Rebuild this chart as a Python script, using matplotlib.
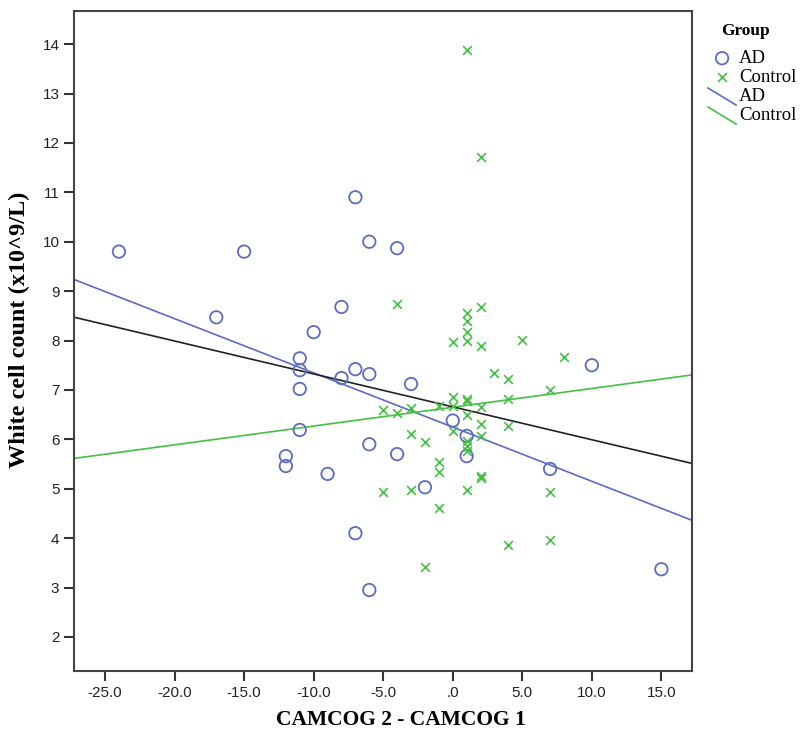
import numpy as np
import matplotlib.pyplot as plt
from matplotlib.lines import Line2D
from matplotlib.legend_handler import HandlerLine2D
from matplotlib.ticker import FuncFormatter


# AD group: CAMCOG change vs white cell count
ad_x = [-24, -15, -17, -7, -6, -4, -8, -10, -11, -11, -7, -8, -6, -11, -3,
        -11, -6, -12, -12, -9, -4, -2, -7, -6, 0, 1, 1, 7, 10, 15]
ad_y = [9.80, 9.80, 8.47, 10.90, 10.00, 9.87, 8.68, 8.17, 7.64, 7.40, 7.42, 7.24, 7.32, 7.02, 7.12,
        6.19, 5.90, 5.66, 5.46, 5.30, 5.70, 5.03, 4.10, 2.95, 6.38, 6.07, 5.66, 5.40, 7.50, 3.37]

# Control group
ctrl_x = [-4, 1, 1, 2, 1, 1, 0, 2, 5, 8, 3, 4, 7, 0, 1, 1, 0, -1, 2, -5,
          -4, -3, 1, 2, 4, 4, 0, -3, -2, 2, 1, 1, 1, -1, -1, 2, 2, -5, -3, 1,
          7, -1, 4, 7, -2, 1, 2]
ctrl_y = [8.74, 8.55, 8.40, 8.68, 8.18, 8.00, 7.98, 7.89, 8.02, 7.67, 7.35, 7.22, 7.00, 6.85, 6.81, 6.78, 6.67, 6.68, 6.65, 6.60,
          6.54, 6.64, 6.50, 6.31, 6.27, 6.81, 6.17, 6.10, 5.94, 6.07, 5.97, 5.87, 5.76, 5.55, 5.33, 5.25, 5.21, 4.94, 4.97, 4.97,
          4.94, 4.60, 3.86, 3.97, 3.42, 13.88, 11.71]

x_ticks = [-25, -20, -15, -10, -5, 0, 5, 10, 15]
y_ticks = list(range(2, 15))

blue = '#5a6cc6'
green = '#44c044'
serif = ['Liberation Serif', 'DejaVu Serif']
sans = ['Liberation Sans', 'DejaVu Sans']


# legend lines drawn diagonally, like the SPSS output
class DiagonalLine(HandlerLine2D):
    def create_artists(self, legend, orig_handle, xdescent, ydescent,
                       width, height, fontsize, trans):
        line = Line2D([-xdescent, -xdescent + width],
                      [height * 1.0 - ydescent, -height * 0.3 - ydescent])
        self.update_prop(line, orig_handle, legend)
        line.set_transform(trans)
        return [line]


fig = plt.figure(figsize=(8.01, 7.36), dpi=100)
ax = fig.add_axes([0.0924, 0.0883, 0.7715, 0.8967])

ax.set_xlim(-27.23, 17.2)
ax.set_ylim(1.31, 14.67)

ad_pts = ax.scatter(ad_x, ad_y, s=80, marker='o', facecolors='none',
                    edgecolors=blue, linewidths=1.3, label='AD', zorder=3)
ctrl_pts = ax.scatter(ctrl_x, ctrl_y, s=40, marker='x', color=green,
                      linewidths=1.2, label='Control', zorder=3)

# fit lines across whole axis
xs = np.array(ax.get_xlim())
k, b = np.polyfit(ad_x, ad_y, 1)
ad_line, = ax.plot(xs, k * xs + b, color=blue, lw=1.2, label='AD')
k, b = np.polyfit(ctrl_x, ctrl_y, 1)
ctrl_line, = ax.plot(xs, k * xs + b, color=green, lw=1.2, label='Control')
k, b = np.polyfit(ad_x + ctrl_x, ad_y + ctrl_y, 1)
ax.plot(xs, k * xs + b, color='#222222', lw=1.2)
ax.set_xlim(xs)

ax.xaxis.set_major_locator(plt.FixedLocator(x_ticks))
ax.yaxis.set_major_locator(plt.FixedLocator(y_ticks))


def fmt_x(v, pos):
    s = '%.1f' % v
    if s.startswith('0'):
        s = s[1:]
    return s


ax.xaxis.set_major_formatter(FuncFormatter(fmt_x))
ax.tick_params(direction='out', length=7, width=1.5, color='#333333',
               labelsize=11, labelcolor='#222222')
for lab in ax.get_xticklabels() + ax.get_yticklabels():
    lab.set_family(sans)
for sp in ax.spines.values():
    sp.set_linewidth(1.5)
    sp.set_color('#444444')

ax.set_xlabel('CAMCOG 2 - CAMCOG 1', family=serif, fontweight='bold',
              fontsize=15.5)
ax.set_ylabel('White cell count (x10^9/L)', family=serif, fontweight='bold',
              fontsize=17.5)
ax.xaxis.set_label_coords(0.529, -0.059)
ax.yaxis.set_label_coords(-0.071, 0.517)

fig.text(745 / 801, 1 - 31 / 736, 'Group', family=serif, fontweight='bold',
         fontsize=12.5, ha='center', va='center')
leg = fig.legend([ad_pts, ctrl_pts, ad_line, ctrl_line],
                 ['AD', 'Control', 'AD', 'Control'],
                 loc='upper left', bbox_to_anchor=(708 / 801, 1 - 50 / 736),
                 frameon=False, handlelength=1.5, handletextpad=0.15,
                 labelspacing=0.1, borderaxespad=0, borderpad=0,
                 prop={'family': serif, 'size': 13.5},
                 handler_map={ad_line: DiagonalLine(), ctrl_line: DiagonalLine()})

fig.savefig('out.png', dpi=100)
